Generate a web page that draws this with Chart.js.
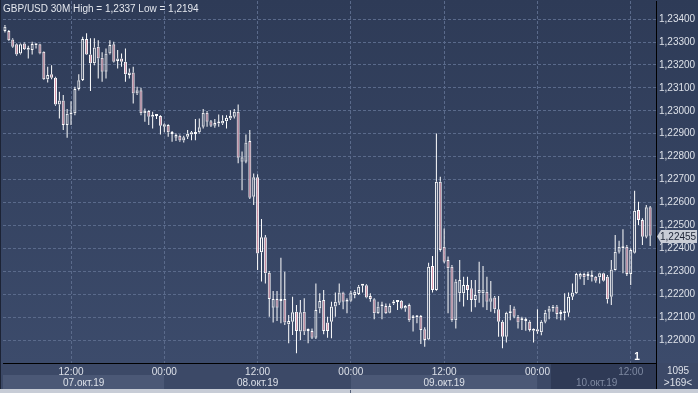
<!DOCTYPE html>
<html>
<head>
<meta charset="utf-8">
<script src="https://cdn.jsdelivr.net/npm/chart.js@4.4.1/dist/chart.umd.min.js"></script>
<style>
  html, body { margin: 0; padding: 0; background: #2f3c58; }
  canvas { display: block; }
</style>
</head>
<body>
<canvas id="chart" width="698" height="393"></canvas>
<script>
// GBP/USD 30M candles (07.10.2019 03:30 -> 10.10.2019 14:30)
const open = [
  1.23348, 1.23348, 1.23311, 1.23290, 1.23250, 1.23294, 1.23266, 1.23265, 1.23287, 1.23290,
  1.23258, 1.23138, 1.23159, 1.23144, 1.23028, 1.23045, 1.22938, 1.22984, 1.22989, 1.23095,
  1.23134, 1.23313, 1.23246, 1.23207, 1.23279, 1.23231, 1.23170, 1.23250, 1.23290, 1.23217,
  1.23228, 1.23214, 1.23156, 1.23167, 1.23076, 1.23090, 1.22989, 1.22999, 1.22974, 1.22977,
  1.22977, 1.22931, 1.22938, 1.22906, 1.22883, 1.22891, 1.22871, 1.22887, 1.22897, 1.22899,
  1.22906, 1.22931, 1.22992, 1.22955, 1.22935, 1.22949, 1.22945, 1.22955, 1.22967, 1.22974,
  1.22996, 1.22778, 1.22778, 1.22868, 1.22625, 1.22710, 1.22383, 1.22448, 1.22294, 1.22141,
  1.22179, 1.22170, 1.22179, 1.22069, 1.22080, 1.22124, 1.22037, 1.22124, 1.22040, 1.22040,
  1.22010, 1.22138, 1.22175, 1.22077, 1.22080, 1.22146, 1.22163, 1.22207, 1.22167, 1.22172,
  1.22197, 1.22201, 1.22239, 1.22239, 1.22192, 1.22178, 1.22117, 1.22146, 1.22149, 1.22119,
  1.22160, 1.22167, 1.22172, 1.22138, 1.22153, 1.22095, 1.22099, 1.22105, 1.22047, 1.22003,
  1.22323, 1.22218, 1.22691, 1.22407, 1.22349, 1.22320, 1.22087, 1.22204, 1.22204, 1.22240,
  1.22226, 1.22175, 1.22204, 1.22204, 1.22211, 1.22167, 1.22186, 1.22134, 1.22080, 1.22015,
  1.22117, 1.22138, 1.22102, 1.22087, 1.22083, 1.22080, 1.22041, 1.22047, 1.22034, 1.22080,
  1.22124, 1.22138, 1.22146, 1.22114, 1.22117, 1.22119, 1.22189, 1.22204, 1.22276, 1.22288,
  1.22279, 1.22284, 1.22276, 1.22274, 1.22291, 1.22276, 1.22189, 1.22306, 1.22385, 1.22400,
  1.22407, 1.22288, 1.22381, 1.22567, 1.22524, 1.22451, 1.22579
];
const high = [
  1.23374, 1.23352, 1.23316, 1.23294, 1.23294, 1.23298, 1.23284, 1.23301, 1.23290, 1.23292,
  1.23260, 1.23192, 1.23199, 1.23149, 1.23083, 1.23069, 1.23008, 1.23042, 1.23105, 1.23159,
  1.23323, 1.23338, 1.23316, 1.23316, 1.23308, 1.23255, 1.23272, 1.23308, 1.23301, 1.23265,
  1.23250, 1.23272, 1.23185, 1.23192, 1.23105, 1.23101, 1.23010, 1.23003, 1.22996, 1.22984,
  1.22981, 1.22945, 1.22941, 1.22912, 1.22901, 1.22897, 1.22891, 1.22916, 1.22912, 1.22964,
  1.22967, 1.23008, 1.22999, 1.22960, 1.22964, 1.22984, 1.22981, 1.22981, 1.23003, 1.23008,
  1.23028, 1.22822, 1.22897, 1.22916, 1.22727, 1.22723, 1.22528, 1.22458, 1.22301, 1.22214,
  1.22214, 1.22359, 1.22298, 1.22109, 1.22189, 1.22153, 1.22175, 1.22182, 1.22051, 1.22051,
  1.22247, 1.22204, 1.22218, 1.22102, 1.22167, 1.22207, 1.22247, 1.22211, 1.22182, 1.22215,
  1.22218, 1.22240, 1.22244, 1.22244, 1.22204, 1.22182, 1.22167, 1.22167, 1.22160, 1.22160,
  1.22175, 1.22175, 1.22175, 1.22153, 1.22160, 1.22109, 1.22109, 1.22109, 1.22056, 1.22337,
  1.22367, 1.22901, 1.22712, 1.22487, 1.22364, 1.22327, 1.22265, 1.22349, 1.22276, 1.22276,
  1.22262, 1.22262, 1.22342, 1.22323, 1.22276, 1.22258, 1.22192, 1.22192, 1.22087, 1.22124,
  1.22153, 1.22146, 1.22109, 1.22102, 1.22099, 1.22087, 1.22051, 1.22134, 1.22087, 1.22131,
  1.22149, 1.22153, 1.22153, 1.22131, 1.22204, 1.22207, 1.22247, 1.22294, 1.22294, 1.22294,
  1.22298, 1.22303, 1.22279, 1.22294, 1.22294, 1.22284, 1.22349, 1.22458, 1.22433, 1.22483,
  1.22415, 1.22400, 1.22651, 1.22603, 1.22531, 1.22589, 1.22585
];
const low = [
  1.23342, 1.23304, 1.23275, 1.23240, 1.23246, 1.23265, 1.23228, 1.23246, 1.23272, 1.23247,
  1.23134, 1.23124, 1.23138, 1.23022, 1.22967, 1.22916, 1.22883, 1.22938, 1.22981, 1.23089,
  1.23130, 1.23243, 1.23086, 1.23199, 1.23141, 1.23127, 1.23141, 1.23246, 1.23211, 1.23185,
  1.23192, 1.23127, 1.23141, 1.23032, 1.23069, 1.22981, 1.22952, 1.22938, 1.22923, 1.22964,
  1.22897, 1.22906, 1.22887, 1.22865, 1.22868, 1.22865, 1.22862, 1.22877, 1.22872, 1.22872,
  1.22901, 1.22923, 1.22931, 1.22929, 1.22926, 1.22931, 1.22938, 1.22923, 1.22960, 1.22967,
  1.22771, 1.22654, 1.22771, 1.22615, 1.22589, 1.22306, 1.22255, 1.22247, 1.22102, 1.22077,
  1.22083, 1.22073, 1.22066, 1.21986, 1.22022, 1.21942, 1.22000, 1.22022, 1.21986, 1.22005,
  1.22005, 1.22117, 1.22025, 1.22010, 1.22008, 1.22102, 1.22153, 1.22134, 1.22117, 1.22167,
  1.22182, 1.22197, 1.22207, 1.22182, 1.22167, 1.22091, 1.22114, 1.22091, 1.22114, 1.22117,
  1.22153, 1.22131, 1.22134, 1.22124, 1.22080, 1.22037, 1.22073, 1.21983, 1.21971, 1.22000,
  1.22207, 1.22215, 1.22385, 1.22335, 1.22117, 1.22080, 1.22051, 1.22167, 1.22146, 1.22175,
  1.22124, 1.22143, 1.22163, 1.22143, 1.22131, 1.22124, 1.22117, 1.22015, 1.21964, 1.21989,
  1.22087, 1.22095, 1.22051, 1.22044, 1.22041, 1.22037, 1.21989, 1.22028, 1.22021, 1.22073,
  1.22091, 1.22124, 1.22091, 1.22087, 1.22087, 1.22102, 1.22175, 1.22201, 1.22265, 1.22240,
  1.22262, 1.22255, 1.22250, 1.22247, 1.22255, 1.22160, 1.22153, 1.22303, 1.22378, 1.22291,
  1.22279, 1.22240, 1.22378, 1.22502, 1.22415, 1.22444, 1.22410
];
const close = [
  1.23367, 1.23308, 1.23279, 1.23246, 1.23290, 1.23269, 1.23272, 1.23291, 1.23286, 1.23250,
  1.23138, 1.23156, 1.23144, 1.23028, 1.23045, 1.22938, 1.22987, 1.22992, 1.23095, 1.23133,
  1.23313, 1.23246, 1.23207, 1.23276, 1.23228, 1.23170, 1.23250, 1.23287, 1.23214, 1.23228,
  1.23214, 1.23159, 1.23167, 1.23076, 1.23090, 1.22989, 1.23000, 1.22974, 1.22977, 1.22978,
  1.22935, 1.22941, 1.22906, 1.22899, 1.22894, 1.22871, 1.22885, 1.22900, 1.22906, 1.22907,
  1.22928, 1.22992, 1.22952, 1.22935, 1.22947, 1.22945, 1.22957, 1.22970, 1.22978, 1.22996,
  1.22795, 1.22797, 1.22862, 1.22621, 1.22710, 1.22378, 1.22448, 1.22291, 1.22179, 1.22179,
  1.22141, 1.22179, 1.22077, 1.22083, 1.22121, 1.22040, 1.22121, 1.22037, 1.22042, 1.22010,
  1.22131, 1.22170, 1.22040, 1.22040, 1.22146, 1.22167, 1.22207, 1.22167, 1.22175, 1.22207,
  1.22211, 1.22233, 1.22237, 1.22186, 1.22179, 1.22117, 1.22146, 1.22153, 1.22117, 1.22149,
  1.22167, 1.22166, 1.22138, 1.22149, 1.22087, 1.22102, 1.22105, 1.22044, 1.22000, 1.22320,
  1.22218, 1.22691, 1.22393, 1.22342, 1.22313, 1.22087, 1.22255, 1.22262, 1.22240, 1.22218,
  1.22175, 1.22197, 1.22218, 1.22221, 1.22167, 1.22182, 1.22134, 1.22080, 1.22015, 1.22119,
  1.22124, 1.22102, 1.22077, 1.22086, 1.22085, 1.22044, 1.22047, 1.22037, 1.22080, 1.22119,
  1.22138, 1.22146, 1.22114, 1.22119, 1.22124, 1.22189, 1.22207, 1.22288, 1.22288, 1.22274,
  1.22288, 1.22274, 1.22259, 1.22291, 1.22259, 1.22178, 1.22308, 1.22385, 1.22407, 1.22407,
  1.22288, 1.22393, 1.22564, 1.22524, 1.22451, 1.22579, 1.22455
];

const priceTicks = [1.2200, 1.2210, 1.2220, 1.2230, 1.2240, 1.2250, 1.2260, 1.2270,
                    1.2280, 1.2290, 1.2300, 1.2310, 1.2320, 1.2330, 1.2340];
const timeTicks = ['00:00', '12:00'];
const dayLabels = ['07.окт.19', '08.окт.19', '09.окт.19', '10.окт.19'];
const firstBarMinutes = 3 * 60 + 30;   // 07.10 03:30
const slotCount = 168;                 // one empty slot after the last bar
const darkFromIndex = 141;             // grey block at the right end of the time strip

const pad = n => String(n).padStart(2, '0');
const timeLabels = Array.from({ length: slotCount }, (_, i) => {
  const m = (firstBarMinutes + i * 30) % 1440;
  return pad(Math.floor(m / 60)) + ':' + pad(m % 60);
});

const FONT = 'Liberation Sans';
const TEXT = '#dde1e9';
const GRID = '#5a6a8b';
const BEAR = '#d995a9';

const bodies = open.map((o, i) => [Math.min(o, close[i]), Math.max(o, close[i])]);
const upperWicks = open.map((o, i) => [Math.max(o, close[i]), high[i]]);
const lowerWicks = open.map((o, i) => [low[i], Math.min(o, close[i])]);
const bodyColors = open.map((o, i) => close[i] < o ? BEAR : 'rgba(0,0,0,0)');

const fmt = v => v.toFixed(5).replace('.', ',');

// pixel where each day's band ends (the next 00:00 tick, or the plot edge)
function dayEdges(chart) {
  const xs = chart.scales.x, a = chart.chartArea;
  const first = timeLabels.indexOf('00:00');
  const edges = [a.left];
  dayLabels.forEach((d, k) => {
    const idx = first + k * 48;
    edges.push(idx < slotCount ? xs.getPixelForTick(idx) : a.right);
  });
  return edges;
}

const mt4Frame = {
  id: 'mt4Frame',
  beforeDraw(chart) {
    const { ctx, chartArea: a } = chart;
    const xs = chart.scales.x;
    ctx.save();
    const g = ctx.createLinearGradient(0, 0, 0, a.bottom);
    g.addColorStop(0, '#2e3b57');
    g.addColorStop(1, '#3c4b6b');
    ctx.fillStyle = g;
    ctx.fillRect(0, 0, chart.width, a.bottom);

    // time row + date row
    ctx.fillStyle = '#3c4967';
    ctx.fillRect(0, a.bottom, chart.width, 26);
    const edges = dayEdges(chart);
    dayLabels.forEach((d, k) => {
      ctx.fillStyle = k % 2 === 0 ? '#4b5876' : '#3c4967';
      ctx.fillRect(edges[k], a.bottom + 12, edges[k + 1] - edges[k], 14);
    });
    const darkX = xs.getPixelForTick(darkFromIndex) - 2;
    ctx.fillStyle = '#2f3a56';
    ctx.fillRect(darkX, a.bottom + 1, a.right - darkX, 25);
    ctx.restore();
  },
  afterDraw(chart) {
    const { ctx, chartArea: a } = chart;
    const ys = chart.scales.y;
    ctx.save();

    // title
    ctx.font = '10px "' + FONT + '"';
    ctx.fillStyle = '#e4e7ee';
    ctx.textBaseline = 'alphabetic';
    ctx.textAlign = 'left';
    ctx.fillText('GBP/USD 30M High = ' + high.reduce((m, v) => Math.max(m, v)).toFixed(4).replace('.', ',') +
                 ' Low = ' + low.reduce((m, v) => Math.min(m, v)).toFixed(4).replace('.', ','), 3, 12);

    // dates, centred in each visible day band
    ctx.font = '10px "' + FONT + '"';
    ctx.textAlign = 'center';
    ctx.textBaseline = 'middle';
    const edges = dayEdges(chart);
    dayLabels.forEach((d, k) => {
      ctx.fillStyle = k === dayLabels.length - 1 ? '#7f8aa2' : TEXT;
      ctx.fillText(d, (edges[k] + edges[k + 1]) / 2, a.bottom + 20);
    });

    // right lower box
    ctx.fillStyle = TEXT;
    ctx.fillText('1095', 678, a.bottom + 8);
    ctx.fillText('>169<', 678, a.bottom + 20);
    ctx.strokeStyle = '#000';
    ctx.lineWidth = 1;
    ctx.beginPath();
    ctx.moveTo(a.right + 0.5, a.bottom);
    ctx.lineTo(a.right + 0.5, a.bottom + 26);
    ctx.stroke();

    // "1" marker
    ctx.fillStyle = '#ffffff';
    ctx.font = 'bold 10px "' + FONT + '"';
    ctx.fillText('1', 637, a.bottom - 6);

    // current price label
    const last = close[close.length - 1];
    const py = Math.round(ys.getPixelForValue(last)) + 0.5;
    ctx.fillStyle = '#c9cdd6';
    ctx.beginPath();
    ctx.moveTo(a.right + 1, py);
    ctx.lineTo(a.right + 5, py - 6.5);
    ctx.lineTo(697, py - 6.5);
    ctx.lineTo(697, py + 6.5);
    ctx.lineTo(a.right + 5, py + 6.5);
    ctx.closePath();
    ctx.fill();
    ctx.fillStyle = '#1d2436';
    ctx.font = '10px "' + FONT + '"';
    ctx.textAlign = 'left';
    ctx.fillText(fmt(last), a.right + 4, py + 0.5);

    // window edges
    ctx.fillStyle = '#1c2335';
    ctx.fillRect(0, 0, 1, a.bottom + 26);
    ctx.fillStyle = '#c7ccd6';
    ctx.fillRect(0, a.bottom + 26, chart.width, chart.height - a.bottom - 26);
    ctx.fillStyle = '#55607a';
    ctx.fillRect(350, a.bottom + 27, 1, 4);
    ctx.restore();
  }
};

const barBase = { grouped: false, inflateAmount: 0, borderSkipped: false };

new Chart(document.getElementById('chart'), {
  type: 'bar',
  data: {
    labels: timeLabels,
    datasets: [
      Object.assign({ label: 'body', data: bodies, backgroundColor: bodyColors, borderColor: '#ffffff',
        borderWidth: 1, barThickness: 3, minBarLength: 2, order: 0 }, barBase),
      Object.assign({ label: 'upper', data: upperWicks, backgroundColor: '#ffffff', barThickness: 1, order: 1 }, barBase),
      Object.assign({ label: 'lower', data: lowerWicks, backgroundColor: '#ffffff', barThickness: 1, order: 1 }, barBase)
    ]
  },
  options: {
    responsive: false,
    animation: false,
    events: [],
    layout: { padding: { left: 3, top: 1, right: 0, bottom: 0 } },
    plugins: { legend: { display: false }, tooltip: { enabled: false } },
    scales: {
      x: {
        type: 'category',
        offset: true,
        afterFit: s => { s.height = 30; s.paddingLeft = 0; s.paddingRight = 0; },
        grid: {
          offset: false,
          drawTicks: false,
          color: c => (c.tick && c.tick.label) ? GRID : 'rgba(0,0,0,0)'
        },
        border: { color: '#000000', width: 1, dash: [3, 2] },
        ticks: {
          autoSkip: false,
          maxRotation: 0,
          minRotation: 0,
          padding: 3,
          font: { family: FONT, size: 10 },
          color: c => c.index >= darkFromIndex ? '#7f8aa2' : TEXT,
          callback: (v, i) => timeTicks.includes(timeLabels[i]) ? timeLabels[i] : ''
        }
      },
      y: {
        position: 'right',
        min: 1.21900,
        max: 1.23479,
        afterBuildTicks: s => { s.ticks = priceTicks.map(v => ({ value: v })); },
        afterFit: s => { s.width = 42; s.paddingTop = 0; s.paddingBottom = 0; },
        grid: { color: GRID, drawTicks: false },
        border: { color: '#000000', width: 1, dash: [3, 2] },
        ticks: {
          padding: 3,
          font: { family: FONT, size: 10 },
          color: TEXT,
          callback: v => fmt(v)
        }
      }
    }
  },
  plugins: [mt4Frame]
});
</script>
</body>
</html>
